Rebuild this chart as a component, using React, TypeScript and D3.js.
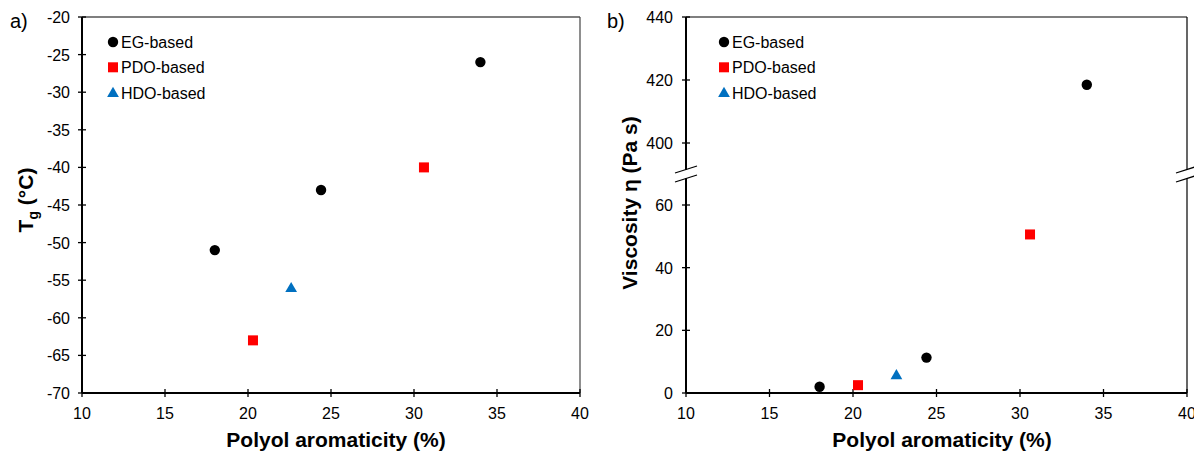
import React from "react";
import * as d3 from "d3";

const xTicks = [10, 15, 20, 25, 30, 35, 40];
const tgTicks = [-20, -25, -30, -35, -40, -45, -50, -55, -60, -65, -70];
const viscLowTicks = [0, 20, 40, 60];
const viscHighTicks = [400, 420, 440];

const egArom = [18.0, 24.4, 34.0];
const egTg = [-51, -43, -26];
const egVisc = [2.0, 11.3, 418.5];

const pdoArom = [20.3, 30.6];
const pdoTg = [-63, -40];
const pdoVisc = [2.5, 50.6];

const hdoArom = [22.6];
const hdoTg = [-56];
const hdoVisc = [5.8];

const series = [
  { name: "EG-based", shape: "circle", color: "#000000", x: egArom, tg: egTg, visc: egVisc },
  { name: "PDO-based", shape: "square", color: "#FF0000", x: pdoArom, tg: pdoTg, visc: pdoVisc },
  { name: "HDO-based", shape: "triangle", color: "#0070C0", x: hdoArom, tg: hdoTg, visc: hdoVisc },
];

const FONT = "'Liberation Sans', Arial, sans-serif";

function Marker({ shape, color, x, y }: { shape: string; color: string; x: number; y: number }) {
  if (shape === "circle") return <circle cx={x} cy={y} r={5.2} fill={color} />;
  if (shape === "square") return <rect x={x - 5} y={y - 5} width={10} height={10} fill={color} />;
  return <path d={d3.symbol(d3.symbolTriangle, 60)()!} transform={`translate(${x},${y + 1})`} fill={color} />;
}

function Legend({ x, y }: { x: number; y: number }) {
  return (
    <g>
      {series.map((s, i) => (
        <g key={s.name}>
          <Marker shape={s.shape} color={s.color} x={x} y={y + i * 25.3} />
          <text x={x + 8} y={y + i * 25.3 + 6} fontSize={16} fontFamily={FONT} fill="#000">
            {s.name}
          </text>
        </g>
      ))}
    </g>
  );
}

export default function App() {
  // Panel a
  const ax = d3.scaleLinear().domain([10, 40]).range([82, 580]);
  const ay = d3.scaleLinear().domain([-70, -20]).range([393, 17]);

  // Panel b
  const bx = d3.scaleLinear().domain([10, 40]).range([686, 1187]);
  const byLow = d3.scaleLinear().domain([0, 60]).range([393, 205]);
  const byHigh = d3.scaleLinear().domain([400, 440]).range([143, 17]);
  const breakY = 174;
  const by = (v: number) => (v >= 300 ? byHigh(v) : byLow(v));

  const tick = 4;

  const breakMark = (x: number) => (
    <g>
      <rect x={x - 3} y={breakY - 4} width={6} height={8} fill="#fff" />
      <line x1={x - 11} y1={breakY - 1} x2={x + 11} y2={breakY - 8} stroke="#000" strokeWidth={1.3} />
      <line x1={x - 11} y1={breakY + 8} x2={x + 11} y2={breakY + 1} stroke="#000" strokeWidth={1.3} />
    </g>
  );

  return (
    <svg width={1194} height={451} style={{ position: "absolute", left: 0, top: 0 }}>
      <rect width={1194} height={451} fill="#fff" />
      {/* Panel a */}
      <g>
        <line x1={ax(10)} y1={ay(-20)} x2={ax(40)} y2={ay(-20)} stroke="#000" strokeWidth={1.2} />
        <line x1={ax(40)} y1={ay(-20)} x2={ax(40)} y2={ay(-70)} stroke="#444" strokeWidth={1.2} />
        <line x1={ax(10)} y1={ay(-20)} x2={ax(10)} y2={ay(-70)} stroke="#000" strokeWidth={2} />
        <line x1={ax(10)} y1={ay(-70)} x2={ax(40)} y2={ay(-70)} stroke="#000" strokeWidth={2} />
        {tgTicks.map((t) => (
          <g key={t}>
            <line x1={ax(10) - tick} x2={ax(10) + tick} y1={ay(t)} y2={ay(t)} stroke="#000" strokeWidth={1.3} />
            <text x={70} y={ay(t) + 6} textAnchor="end" fontSize={16} fontFamily={FONT}>
              {t}
            </text>
          </g>
        ))}
        {xTicks.map((t) => (
          <g key={t}>
            <line x1={ax(t)} x2={ax(t)} y1={ay(-70) - tick} y2={ay(-70) + tick} stroke="#000" strokeWidth={1.3} />
            <text x={ax(t)} y={419} textAnchor="middle" fontSize={16} fontFamily={FONT}>
              {t}
            </text>
          </g>
        ))}
        <text x={336} y={447} textAnchor="middle" fontSize={21} fontWeight="bold" fontFamily={FONT}>
          Polyol aromaticity (%)
        </text>
        <text transform="translate(33,200) rotate(-90)" textAnchor="middle" fontSize={21} fontWeight="bold" fontFamily={FONT}>
          T<tspan fontSize={14} dy={5}>g</tspan>
          <tspan dy={-5}> (°C)</tspan>
        </text>
        <text x={10} y={28} fontSize={20} fontFamily={FONT}>a)</text>
        {series.map((s) =>
          s.x.map((v, i) => <Marker key={s.name + i} shape={s.shape} color={s.color} x={ax(v)} y={ay(s.tg[i])} />)
        )}
        <Legend x={113} y={42} />
      </g>
      {/* Panel b */}
      <g>
        <line x1={bx(10)} y1={byHigh(440)} x2={bx(40)} y2={byHigh(440)} stroke="#000" strokeWidth={1.2} />
        <line x1={bx(40)} y1={byHigh(440)} x2={bx(40)} y2={byLow(0)} stroke="#000" strokeWidth={1.2} />
        <line x1={bx(10)} y1={byHigh(440)} x2={bx(10)} y2={byLow(0)} stroke="#000" strokeWidth={2} />
        <line x1={bx(10)} y1={byLow(0)} x2={bx(40)} y2={byLow(0)} stroke="#000" strokeWidth={2} />
        {[...viscLowTicks.map((t) => ({ t, y: byLow(t) })), ...viscHighTicks.map((t) => ({ t, y: byHigh(t) }))].map(
          ({ t, y }) => (
            <g key={t}>
              <line x1={bx(10) - tick} x2={bx(10) + tick} y1={y} y2={y} stroke="#000" strokeWidth={1.3} />
              <text x={673} y={y + 6} textAnchor="end" fontSize={16} fontFamily={FONT}>
                {t}
              </text>
            </g>
          )
        )}
        {xTicks.map((t) => (
          <g key={t}>
            <line x1={bx(t)} x2={bx(t)} y1={byLow(0) - tick} y2={byLow(0) + tick} stroke="#000" strokeWidth={1.3} />
            <text x={bx(t)} y={419} textAnchor="middle" fontSize={16} fontFamily={FONT}>
              {t}
            </text>
          </g>
        ))}
        {breakMark(bx(10))}
        {breakMark(bx(40))}
        <text x={942} y={447} textAnchor="middle" fontSize={21} fontWeight="bold" fontFamily={FONT}>
          Polyol aromaticity (%)
        </text>
        <text transform="translate(637,203) rotate(-90)" textAnchor="middle" fontSize={21} fontWeight="bold" fontFamily={FONT}>
          Viscosity η (Pa s)
        </text>
        <text x={607} y={28} fontSize={20} fontFamily={FONT}>b)</text>
        {series.map((s) =>
          s.x.map((v, i) => <Marker key={s.name + i} shape={s.shape} color={s.color} x={bx(v)} y={by(s.visc[i])} />)
        )}
        <Legend x={724} y={42} />
      </g>
    </svg>
  );
}
